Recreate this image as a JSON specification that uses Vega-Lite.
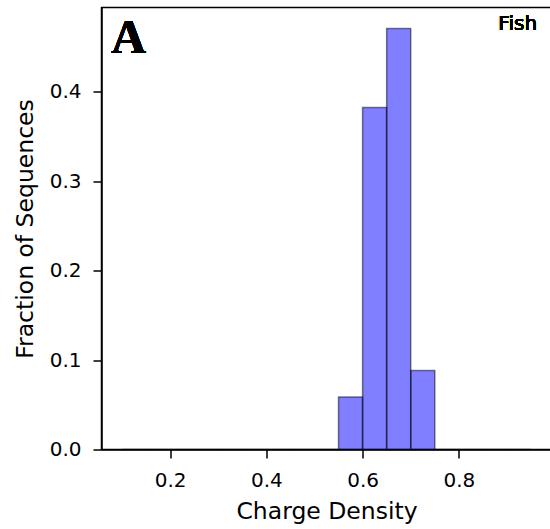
{
  "$schema": "https://vega.github.io/schema/vega-lite/v6.json",
  "autosize": {"type": "none"},
  "padding": {"left": 101.5, "top": 7.5, "right": 0, "bottom": 79.5},
  "width": 450,
  "height": 442,
  "background": "white",
  "config": {
    "view": {"stroke": "black", "strokeWidth": 1.5},
    "axis": {
      "grid": false,
      "domainColor": "black",
      "domainWidth": 1.5,
      "tickColor": "black",
      "tickWidth": 1.5,
      "tickSize": 8.5,
      "labelPadding": 12,
      "labelFont": "DejaVu Sans",
      "labelFontSize": 20,
      "labelColor": "black",
      "titleFont": "DejaVu Sans",
      "titleFontSize": 23.5,
      "titleFontWeight": "normal",
      "titleColor": "black"
    }
  },
  "data": {
    "values": [
      {"start": 0.10, "end": 0.15, "fraction": 0},
      {"start": 0.15, "end": 0.20, "fraction": 0},
      {"start": 0.20, "end": 0.25, "fraction": 0},
      {"start": 0.25, "end": 0.30, "fraction": 0},
      {"start": 0.30, "end": 0.35, "fraction": 0},
      {"start": 0.35, "end": 0.40, "fraction": 0},
      {"start": 0.40, "end": 0.45, "fraction": 0},
      {"start": 0.45, "end": 0.50, "fraction": 0},
      {"start": 0.50, "end": 0.55, "fraction": 0},
      {"start": 0.55, "end": 0.60, "fraction": 0.0588},
      {"start": 0.60, "end": 0.65, "fraction": 0.3824},
      {"start": 0.65, "end": 0.70, "fraction": 0.4706},
      {"start": 0.70, "end": 0.75, "fraction": 0.0882},
      {"start": 0.75, "end": 0.80, "fraction": 0},
      {"start": 0.80, "end": 0.85, "fraction": 0},
      {"start": 0.85, "end": 0.90, "fraction": 0},
      {"start": 0.90, "end": 0.95, "fraction": 0}
    ]
  },
  "layer": [
    {
      "mark": {"type": "rect", "fill": "#0000ff", "fillOpacity": 0.5, "stroke": "black", "strokeOpacity": 0.5, "strokeWidth": 1.5},
      "encoding": {
        "x": {"field": "start", "type": "quantitative", "scale": {"domain": [0.0575, 0.9925], "nice": false, "zero": false},
              "axis": {"values": [0.2, 0.4, 0.6, 0.8], "format": ".1f", "title": "Charge Density", "titlePadding": 9.5}},
        "x2": {"field": "end"},
        "y": {"field": "fraction", "type": "quantitative", "scale": {"domain": [0, 0.49412], "nice": false},
              "axis": {"values": [0, 0.1, 0.2, 0.3, 0.4], "format": ".1f", "title": "Fraction of Sequences", "titlePadding": 12}},
        "y2": {"datum": 0}
      }
    },
    {
      "mark": {"type": "text", "text": "A", "font": "Liberation Serif", "fontWeight": "bold", "fontSize": 48, "align": "left", "baseline": "alphabetic", "fill": "black", "strokeWidth": 0},
      "encoding": {"x": {"datum": 0.0777, "type": "quantitative"}, "y": {"datum": 0.4429, "type": "quantitative"}}
    },
    {
      "mark": {"type": "text", "text": "Fish", "font": "DejaVu Sans", "fontWeight": "normal", "fontSize": 20, "align": "right", "baseline": "alphabetic", "fill": "black", "strokeWidth": 0},
      "encoding": {"x": {"datum": 0.9625, "type": "quantitative"}, "y": {"datum": 0.469, "type": "quantitative"}}
    }
  ]
}
